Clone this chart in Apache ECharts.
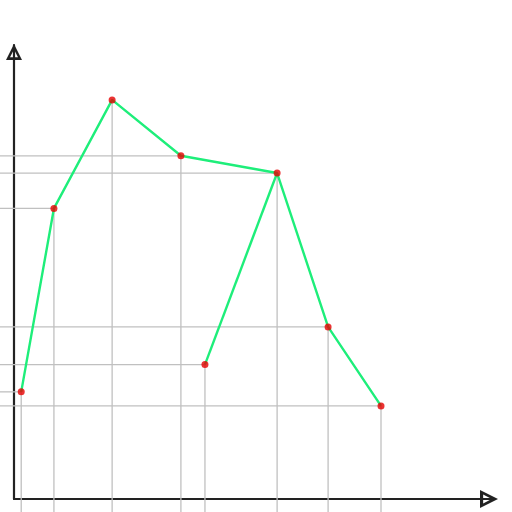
<!DOCTYPE html>
<html>
<head>
<meta charset="utf-8">
<script src="https://cdn.jsdelivr.net/npm/echarts@6/dist/echarts.min.js"></script>
<style>html,body{margin:0;padding:0;background:#fff}#c{width:512px;height:512px}</style>
</head>
<body>
<div id="c"></div>
<script>
// Data (arbitrary units, axes 0-100, no tick labels shown)
var xValues = [1.5, 8.3, 20.4, 34.7, 39.7, 54.7, 65.3, 76.3];
var yValues = [23.6, 64.0, 87.9, 75.6, 29.6, 71.8, 37.9, 20.5];
// which points have a horizontal guide line in the reference
var hGuide = [1, 1, 0, 1, 1, 1, 1, 1];
// order in which the green line joins the points
var mainPath = [0, 1, 2, 3, 5, 6, 7];
var branchPath = [4, 5];

var points = xValues.map(function (x, i) { return [x, yValues[i], hGuide[i]]; });
function pick(idx) { return idx.map(function (i) { return [xValues[i], yValues[i]]; }); }

var arrow = 'path://M0,0 L10,20 L-10,20 Z M0,7 L-5,16.5 L5,16.5 Z';

var chart = echarts.init(document.getElementById('c'), null, {renderer: 'canvas'});
chart.setOption({
  animation: false,
  grid: {left: 14, right: 17, top: 45, bottom: 13, containLabel: false},
  xAxis: {
    type: 'value', min: 0, max: 100,
    axisLine: {show: true, symbol: ['none', arrow], symbolSize: [19, 18], symbolOffset: [0, -6],
      lineStyle: {color: '#222', width: 2.2}},
    axisTick: {show: false}, axisLabel: {show: false}, splitLine: {show: false}
  },
  yAxis: {
    type: 'value', min: 0, max: 100,
    axisLine: {show: true, symbol: ['none', arrow], symbolSize: [16, 18], symbolOffset: [0, -7],
      lineStyle: {color: '#222', width: 2.2}},
    axisTick: {show: false}, axisLabel: {show: false}, splitLine: {show: false}
  },
  series: [
    {
      type: 'custom',
      data: points,
      z: 1,
      silent: true,
      renderItem: function (params, api) {
        var p = api.coord([api.value(0), api.value(1)]);
        var children = [
          {type: 'line', shape: {x1: p[0], y1: p[1], x2: p[0], y2: 512},
            style: {stroke: '#c0c0c0', lineWidth: 1.3}}
        ];
        if (api.value(2)) {
          children.push({type: 'line', shape: {x1: 0, y1: p[1], x2: p[0], y2: p[1]},
            style: {stroke: '#c0c0c0', lineWidth: 1.3}});
        }
        return {type: 'group', children: children};
      }
    },
    {
      type: 'line', data: pick(mainPath), z: 2, showSymbol: false,
      lineStyle: {color: '#1eee7a', width: 2.4}
    },
    {
      type: 'line', data: pick(branchPath), z: 2, showSymbol: false,
      lineStyle: {color: '#1eee7a', width: 2.4}
    },
    {
      type: 'scatter', data: points, z: 3, symbolSize: 7,
      itemStyle: {color: '#e60000'}
    }
  ]
});
</script>
</body>
</html>
